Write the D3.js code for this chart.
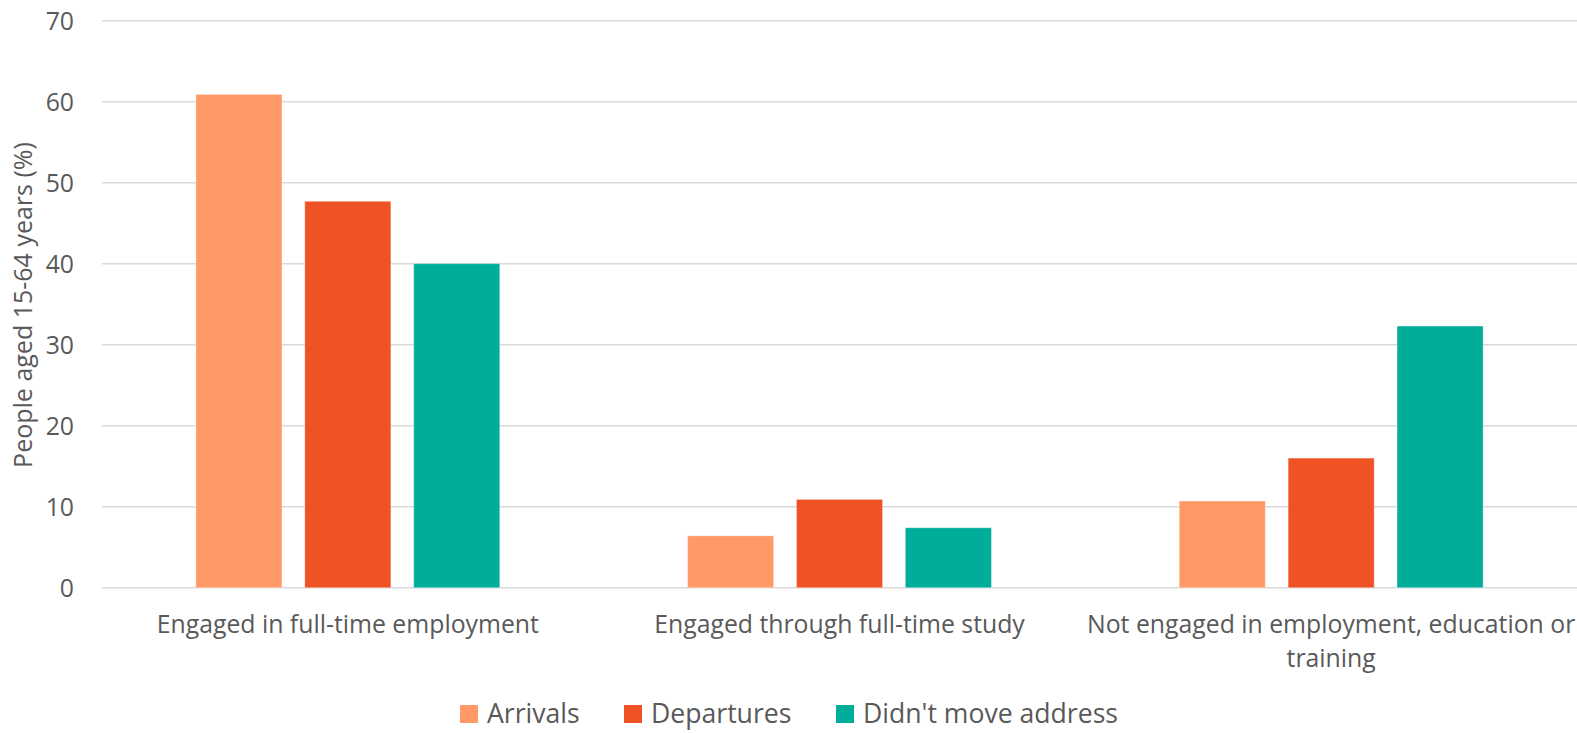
<!DOCTYPE html>
<html>
<head>
<meta charset="utf-8">
<script src="https://cdn.jsdelivr.net/npm/d3@7"></script>
<style>
  html, body { margin: 0; padding: 0; background: #fff; }
  svg { display: block; }
  text { font-family: "Open Sans", "Noto Sans", sans-serif; fill: #595959; }
</style>
</head>
<body>
<svg id="chart" width="1577" height="733"></svg>
<script>
const categories = [
  ["Engaged in full-time employment"],
  ["Engaged through full-time study"],
  ["Not engaged in employment, education or", "training"]
];
const seriesNames = ["Arrivals", "Departures", "Didn't move address"];
const arrivals = [60.9, 6.4, 10.7];
const departures = [47.7, 10.9, 16.0];
const didntMove = [40.0, 7.4, 32.3];
const yTicks = [0, 10, 20, 30, 40, 50, 60, 70];
const colors = ["#FF9966", "#EF5325", "#00AD9B"];

const seriesValues = [arrivals, departures, didntMove];
const svg = d3.select("#chart");
const plot = { left: 102, right: 1577, top: 20.7, bottom: 587.7 };
const FS = 24.8;

const x = d3.scaleBand().domain(d3.range(categories.length)).range([plot.left, plot.right]).padding(0);
const bw = x.bandwidth();
const xs = d3.scaleBand().domain(d3.range(seriesNames.length))
  .range([bw * 0.191, bw * 0.809]).paddingInner(0.21).paddingOuter(0);
const y = d3.scaleLinear().domain([0, 70]).range([plot.bottom, plot.top]);

// gridlines
svg.append("g").selectAll("line").data(yTicks).join("line")
  .attr("x1", plot.left).attr("x2", plot.right)
  .attr("y1", d => y(d)).attr("y2", d => y(d))
  .attr("stroke", "#d9d9d9").attr("stroke-width", 1.5);

// y tick labels
svg.append("g").selectAll("text").data(yTicks).join("text")
  .attr("x", 74).attr("y", d => y(d)).attr("dy", "0.36em")
  .attr("text-anchor", "end").style("font-size", FS + "px")
  .text(d => d);

// y title
svg.append("text")
  .attr("transform", `translate(32,305) rotate(-90)`)
  .attr("text-anchor", "middle").style("font-size", "25px")
  .text("People aged 15-64 years (%)");

// bars
const groups = svg.append("g").selectAll("g").data(categories.map((c, i) => i)).join("g")
  .attr("transform", i => `translate(${x(i)},0)`);
groups.selectAll("rect")
  .data(i => seriesValues.map((vals, s) => ({ s, v: vals[i] })))
  .join("rect")
  .attr("x", d => xs(d.s)).attr("width", xs.bandwidth())
  .attr("y", d => y(d.v)).attr("height", d => y(0) - y(d.v))
  .attr("fill", d => colors[d.s])
  .attr("stroke", "#ffffff").attr("stroke-opacity", 0.3).attr("stroke-width", 1);

// x labels
const xl = svg.append("g").selectAll("text").data(categories).join("text")
  .attr("x", (d, i) => x(i) + bw / 2).attr("y", 633)
  .attr("text-anchor", "middle").style("font-size", FS + "px");
xl.selectAll("tspan").data(d => d).join("tspan")
  .attr("x", function () { return this.parentNode.getAttribute("x"); })
  .attr("dy", (d, j) => j === 0 ? 0 : 34)
  .text(d => d);

// legend
const legendItems = [
  { name: seriesNames[0], sx: 460 },
  { name: seriesNames[1], sx: 624 },
  { name: seriesNames[2], sx: 836 }
];
const lg = svg.append("g").selectAll("g").data(legendItems).join("g");
lg.append("rect").attr("x", d => d.sx).attr("y", 705).attr("width", 18).attr("height", 18)
  .attr("fill", (d, i) => colors[i]);
lg.append("text").attr("x", d => d.sx + 27).attr("y", 713).attr("dy", "0.36em")
  .style("font-size", "26.6px").text(d => d.name);
</script>
</body>
</html>
